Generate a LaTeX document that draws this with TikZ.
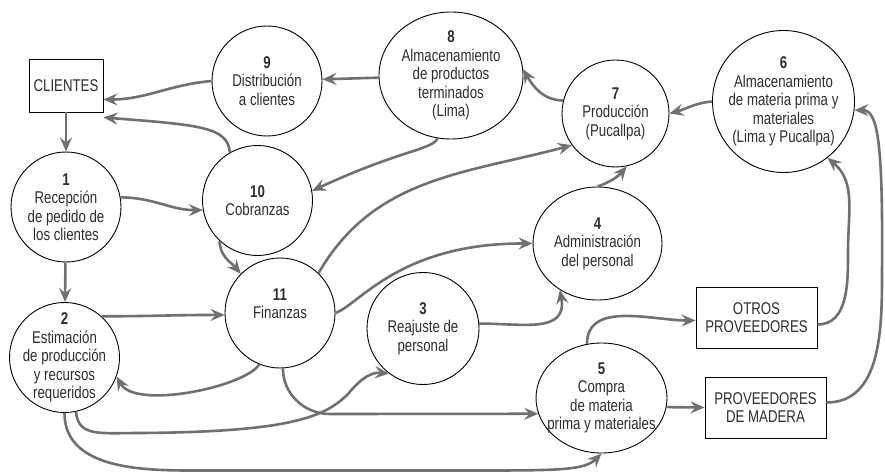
\documentclass[tikz,border=0pt]{standalone}
\usepackage{fontspec}
\setmainfont[FakeStretch=0.78]{Liberation Sans}
\usetikzlibrary{arrows.meta,shapes.geometric}
\definecolor{flecha}{RGB}{112,112,114}
\definecolor{texto}{RGB}{45,45,45}

\begin{document}
\begin{tikzpicture}[x=1pt,y=1pt,
  proceso/.style={circle,draw=black,line width=0.9pt,inner sep=-20pt,text=texto,align=center,font=\fontsize{17}{18.5}\selectfont},
  elipse/.style={proceso,ellipse},
  entidad/.style={rectangle,draw=black,line width=0.9pt,inner sep=2pt,text=texto,align=center,font=\fontsize{17}{18.5}\selectfont},
  flujo/.style={draw=flecha,line width=2.6pt,-{Stealth[length=14pt,width=12pt,inset=5pt]}}]
\useasboundingbox (0,0) rectangle (885,472);

\node[entidad,minimum width=74pt,minimum height=53pt] (clientes) at (66,386.5) {CLIENTES};
\node[entidad,minimum width=121pt,minimum height=61pt] (otros) at (756.5,154.5) {OTROS\\PROVEEDORES};
\node[entidad,minimum width=121pt,minimum height=61pt] (madera) at (765.5,64.5) {PROVEEDORES\\DE MADERA};

\node[proceso,minimum size=110pt] (p1) at (66,265) {\textbf{1}\\Recepción\\de pedido de\\los clientes};
\node[proceso,minimum size=110pt] (p2) at (64.5,114.5) {\textbf{2}\\Estimación\\de producción\\y recursos\\requeridos};
\node[proceso,minimum size=112pt] (p3) at (423,143.5) {\textbf{3}\\Reajuste de\\personal};
\node[elipse,minimum width=129pt,minimum height=113pt] (p4) at (597.5,228.5) {\textbf{4}\\Administración\\del personal};
\node[elipse,minimum width=131pt,minimum height=110pt] (p5) at (601.5,74) {\textbf{5}\\Compra\\de materia\\prima y materiales};
\node[proceso,minimum size=142pt] (p6) at (783.5,370.5) {\textbf{6}\\Almacenamiento\\de materia prima y\\materiales\\(Lima y Pucallpa)};
\node[proceso,minimum size=107pt] (p7) at (615.5,358.5) {\textbf{7}\\Producción\\(Pucallpa)};
\node[elipse,minimum width=144pt,minimum height=127pt] (p8) at (451,396.5) {\textbf{8}\\Almacenamiento\\de productos\\terminados\\(Lima)};
\node[proceso,minimum size=110pt] (p9) at (267,391) {\textbf{9}\\Distribución\\a clientes};
\node[proceso,minimum size=110pt] (p10) at (257.5,271.5) {\textbf{10}\\Cobranzas};
\node[proceso,minimum size=110pt] (p11) at (280,159) {\textbf{11}\\Finanzas\\\mbox{}};

% clientes y despacho
\draw[flujo] (clientes) -- (p1);
\draw[flujo] (p1) -- (p2);
\draw[flujo] (p9.west) to[out=185,in=0] ([yshift=-14pt]clientes.east);
\draw[flujo] (p10.120) .. controls (228,345) and (200,347) .. ([yshift=-5pt]clientes.south east);
\draw[flujo] (p8) -- (p9);
\draw[flujo] (p7.166) to[out=180,in=-60] (p8.5);
\draw[flujo] (p6.west) to[out=185,in=15] (p7.east);
\draw[flujo] (p8.258) .. controls (432,322) and (400,322) .. (p10.10);

% finanzas
\draw[flujo] (p1.10) to[out=0,in=180] (p10.190);
\draw[flujo] (p10.227) to[out=-90,in=130] (p11.135);
\draw[flujo] (p2.48) to[out=0,in=180] (p11.182);
\draw[flujo] (p11.248) .. controls (245,85) and (135,62) .. (p2.-20);
\draw[flujo] (p11.46) to[out=60,in=-165] (p7.216);
\draw[flujo] (p11.east) .. controls (360,168) and (400,229) .. (p4.west);
\draw[flujo] (p3.5) to[out=0,in=-80,looseness=1.3] (p4.231);
\draw[flujo] (p4.north) to[out=20,in=-130] (p7.-78);

% compras
\draw[flujo] (p2.-78) .. controls (78,35) and (100,39) .. (140,39)
  .. controls (290,40) and (325,55) .. (348,78)
  .. controls (362,95) and (372,100) .. (p3.233);
\draw[flujo] (p11.-87) to[out=-90,in=180] (330,58) -- (p5.194);
\draw[flujo] (p2.south) to[out=-90,in=180] (190,1.5) -- (480,1.5)
  .. controls (560,1.5) and (585,2) .. (p5.south);
\draw[flujo] (p5.105) to[out=90,in=180] ([yshift=-3pt]otros.west);
\draw[flujo] (p5.-8) -- (madera.west);
\draw[flujo] ([yshift=-7pt]otros.east) to[out=0,in=-90] (848,220)
  .. controls (848,260) and (856,290) .. (p6.-52);
\draw[flujo] ([yshift=5pt]madera.east) to[out=0,in=-90] (882,200)
  .. controls (883,330) and (878,362) .. (p6.-7);
\end{tikzpicture}
\end{document}
